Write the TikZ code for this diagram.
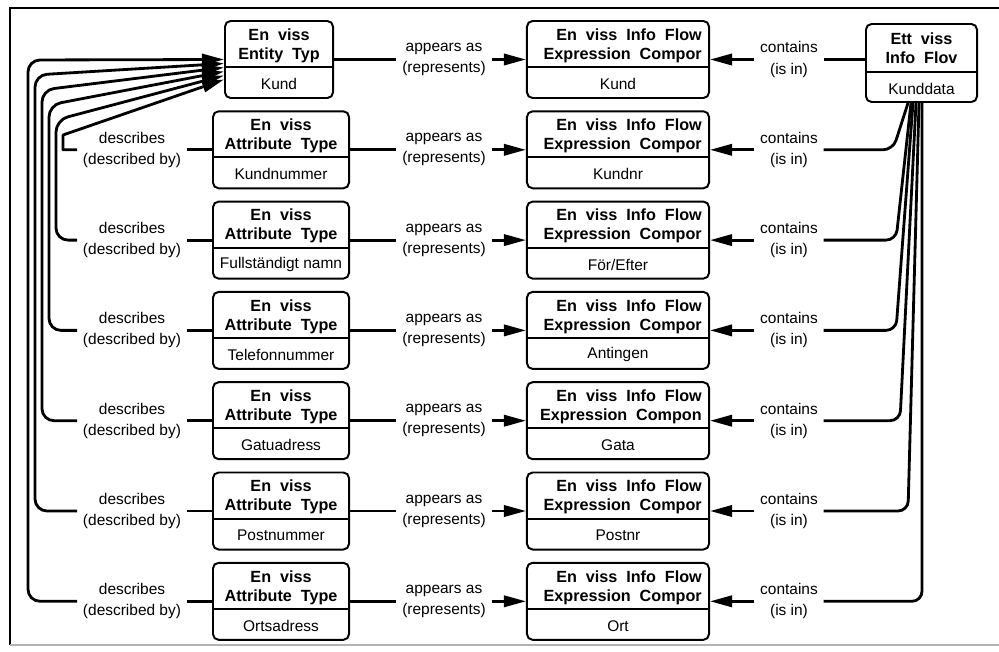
\documentclass[tikz,border=0pt]{standalone}
\usepackage{fontspec}
\setmainfont{Liberation Sans}
\usetikzlibrary{arrows.meta}

\tikzset{
  recbox/.style={draw, line width=1.4pt, rounded corners=4pt, minimum height=1.925cm, inner sep=0pt},
  boxtitle/.style={font=\fontsize{11.5}{13.5}\selectfont\bfseries, align=center, inner sep=0pt,
    execute at begin node={\spaceskip=0.55em plus 0.1em\relax}},
  boxvalue/.style={font=\fontsize{11}{12}\selectfont, inner sep=0pt},
  rellabel/.style={font=\fontsize{11}{15}\selectfont, align=center, inner xsep=4pt, inner ysep=0pt},
  conn/.style={line width=2pt},
  headin/.style={-{Triangle[length=0.55cm,width=0.28cm]}}
}

\begin{document}
\begin{tikzpicture}[x=0.025cm,y=-0.025cm]
  \useasboundingbox (0,0) rectangle (999,651);
  % frame
  \draw[line width=1.3pt] (999,8) -- (10,8) -- (10,645);
  \draw[line width=1.3pt,black!30] (10,645) -- (999,645);

  % row 1: entity type -- component -- info flow
  \node[recbox,minimum width=2.7cm] (et) at (279,59.5) {};
  \draw[line width=1.4pt] ([yshift=-1.175cm]et.north west) -- ([yshift=-1.175cm]et.north east);
  \node[boxtitle] (ett) at ([yshift=-0.64cm]et.north) {En viss\\Entity Typ};
  \node[boxvalue] (etv) at ([yshift=0.375cm]et.south) {Kund};

  \node[recbox,minimum width=4.55cm] (m1) at (618,59.5) {};
  \draw[line width=1.4pt] ([yshift=-1.175cm]m1.north west) -- ([yshift=-1.175cm]m1.north east);
  \node[boxtitle,anchor=east,align=right] (mt1) at ([xshift=-0.2cm,yshift=-0.64cm]m1.north east) {En viss Info Flow\\Expression Compor};
  \node[boxvalue] (mv1) at ([yshift=0.375cm]m1.south) {Kund};

  \node[recbox,minimum width=2.775cm,minimum height=1.95cm] (flow) at (921.5,63) {};
  \draw[line width=1.4pt] ([yshift=-1.225cm]flow.north west) -- ([yshift=-1.225cm]flow.north east);
  \node[boxtitle] (flowt) at ([yshift=-0.64cm]flow.north) {Ett viss\\Info Flov};
  \node[boxvalue] (flowv) at ([yshift=0.35cm]flow.south) {Kunddata};

  \node[rellabel] (p1) at (444,59.5) {appears as\\(represents)};
  \node[rellabel] (c1) at (789,59.5) {contains\\(is in)};
  \draw[conn] (et) -- (p1);
  \draw[conn,headin] (p1) -- (m1);
  \draw[conn,headin] (c1) -- (m1);
  \draw[conn] (c1) -- (c1 -| flow.west);

  % rows 2-7: attribute types
  \foreach \r/\attr/\comp/\tit/\cx/\bx in {
      2/Kundnummer/Kundnr/Compor/893/908,
      3/{Fullständigt namn}/{För/Efter}/Compor/896/911,
      4/Telefonnummer/Antingen/Compor/896/913,
      5/Gatuadress/Gata/Compon/900/916,
      6/Postnummer/Postnr/Compor/908/919,
      7/Ortsadress/Ort/Compor/922/922}{
    \pgfmathsetmacro\yc{59.5+90.3*(\r-1)}
    \pgfmathsetmacro\k{7-\r}
    \pgfmathsetmacro\rc{\k<5 ? 0.3 : 0.01}
    \pgfmathsetmacro\bs{(\bx-921.5)*0.025}
    \node[recbox,minimum width=3.4cm] (a\r) at (281,\yc) {};
    \draw[line width=1.4pt] ([yshift=-1.175cm]a\r.north west) -- ([yshift=-1.175cm]a\r.north east);
    \node[boxtitle] (at\r) at ([yshift=-0.64cm]a\r.north) {En viss\\Attribute Type};
    \node[boxvalue] (av\r) at ([yshift=0.375cm]a\r.south) {\attr};

    \node[recbox,minimum width=4.55cm] (m\r) at (618,\yc) {};
    \draw[line width=1.4pt] ([yshift=-1.175cm]m\r.north west) -- ([yshift=-1.175cm]m\r.north east);
    \node[boxtitle,anchor=east,align=right] (mt\r) at ([xshift=-0.2cm,yshift=-0.64cm]m\r.north east) {En viss Info Flow\\Expression \tit};
    \node[boxvalue] (mv\r) at ([yshift=0.375cm]m\r.south) {\comp};

    \node[rellabel] (d\r) at (132,\yc) {describes\\(described by)};
    \node[rellabel] (p\r) at (444,\yc) {appears as\\(represents)};
    \node[rellabel] (c\r) at (789,\yc) {contains\\(is in)};
    \draw[conn] (d\r) -- (a\r);
    \draw[conn] (a\r) -- (p\r);
    \draw[conn,headin] (p\r) -- (m\r);
    \draw[conn,headin] (c\r) -- (m\r);
    % fan to entity type and to info flow
    \draw[conn,headin,rounded corners=\rc cm] (d\r.west) -- (28+7*\k,\yc) -- (28+7*\k,60+15*\k) -- ([yshift=-\k*0.1cm]et.west);
    \draw[conn,rounded corners=0.25cm] (c\r.east) -- (\cx,\yc) -- ([xshift=\bs cm]flow.south);
  }
\end{tikzpicture}
\end{document}
